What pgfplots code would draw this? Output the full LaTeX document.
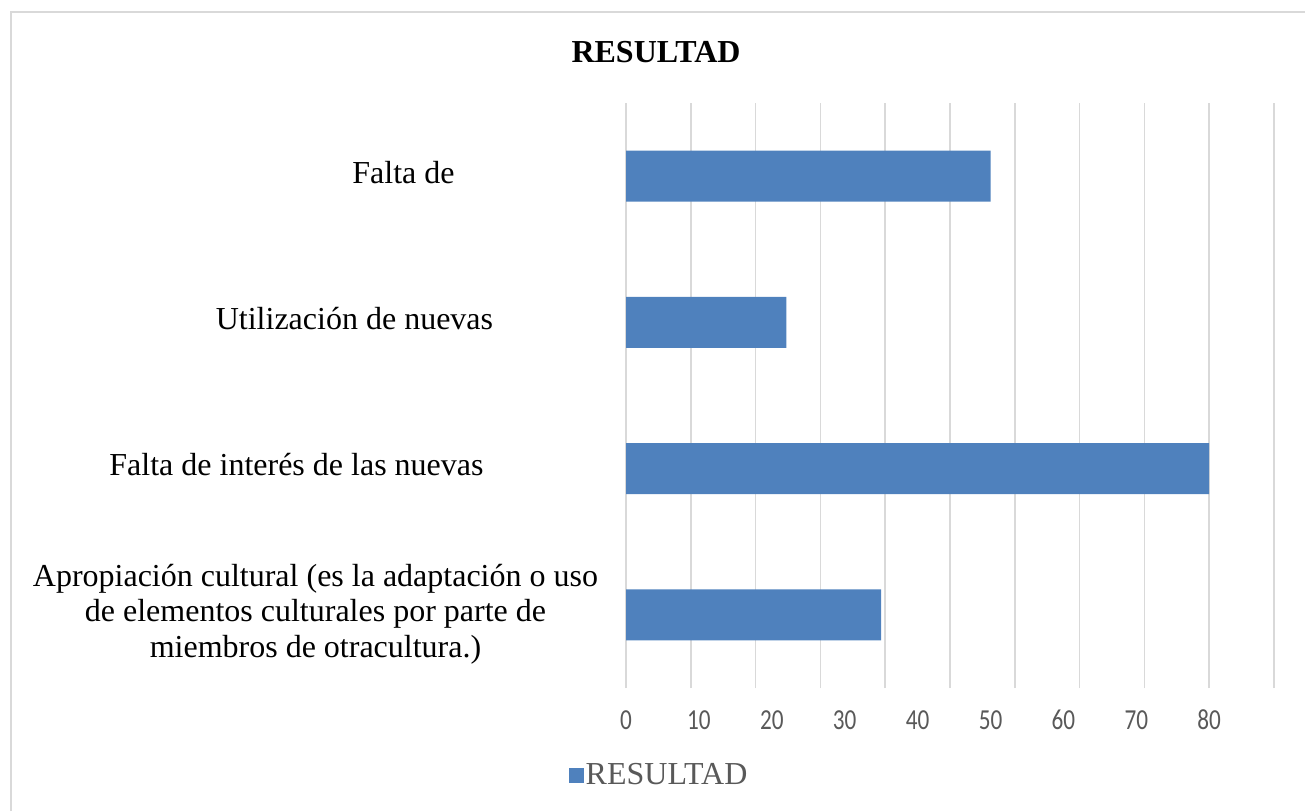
\documentclass[border=0pt]{standalone}
\usepackage{fontspec}
\setmainfont{Liberation Serif}
\newfontfamily\carlito[FakeStretch=0.8]{Carlito}
\usepackage{pgfplots}
\pgfplotsset{compat=1.18}
\definecolor{barblue}{HTML}{4F81BD}
\definecolor{gridgray}{HTML}{D9D9D9}
\definecolor{txtgray}{HTML}{595959}
% zero-width label box, text centred at offset #1 from the tick position
\newcommand\lab[2]{\makebox[0pt][c]{\hspace*{#1}\hspace*{#1}\begin{tabular}{@{}c@{}}#2\end{tabular}}}
\begin{document}
\begin{tikzpicture}
\path[use as bounding box] (0,0) rectangle (652.5pt,405.5pt);
\draw[gridgray, line width=1pt] (5.5pt,0) -- (5.5pt,399.5pt) -- (652.5pt,399.5pt);
\node[font=\fontsize{16}{19}\selectfont\bfseries] at (328pt,379.5pt) {RESULTAD};
\begin{axis}[
  at={(313pt,61.5pt)}, anchor=south west,
  width=324pt, height=292.5pt, scale only axis,
  xbar, bar width=25.5pt,
  xmin=0, xmax=88.8889,
  ymin=-0.5, ymax=3.5,
  axis line style={draw=none},
  tick style={draw=none},
  xtick={0,8.8889,17.7778,26.6667,35.5556,44.4444,53.3333,62.2222,71.1111,80,88.8889},
  xticklabels={},
  xmajorgrids,
  grid style={gridgray, line width=0.75pt},
  extra x ticks={0,10,20,30,40,50,60,70,80},
  extra x tick labels={0,10,20,30,40,50,60,70,80},
  extra x tick style={grid=none, xticklabel style={font=\carlito\fontsize{14.5}{16}\selectfont, text=txtgray, anchor=center, yshift=-16pt}},
  /pgf/number format/assume math mode=true,
  ytick={0,1,2,3},
  yticklabels={
    {\lab{-151pt}{Apropiación cultural (es la adaptación o uso\\de elementos culturales por parte de\\miembros de otracultura.)}},
    {\lab{-160.5pt}{Falta de interés de las nuevas}},
    {\lab{-131.5pt}{Utilización de nuevas}},
    {\lab{-107pt}{Falta de}}},
  yticklabel style={anchor=center, inner sep=0pt, font=\fontsize{16}{17.75}\selectfont},
  legend style={at={(axis description cs:0.051,-0.150)}, anchor=center, draw=none, fill=none,
    font=\fontsize{16}{19}\selectfont, text=txtgray, nodes={inner sep=1pt}},
  legend image code/.code={\fill[barblue] (0pt,-3.75pt) rectangle (7.5pt,3.75pt);},
  clip=false,
]
\addplot[fill=barblue, draw=none] coordinates {(35,0) (80,1) (22,2) (50,3)};
\addlegendentry{RESULTAD}
\end{axis}
\end{tikzpicture}
\end{document}
